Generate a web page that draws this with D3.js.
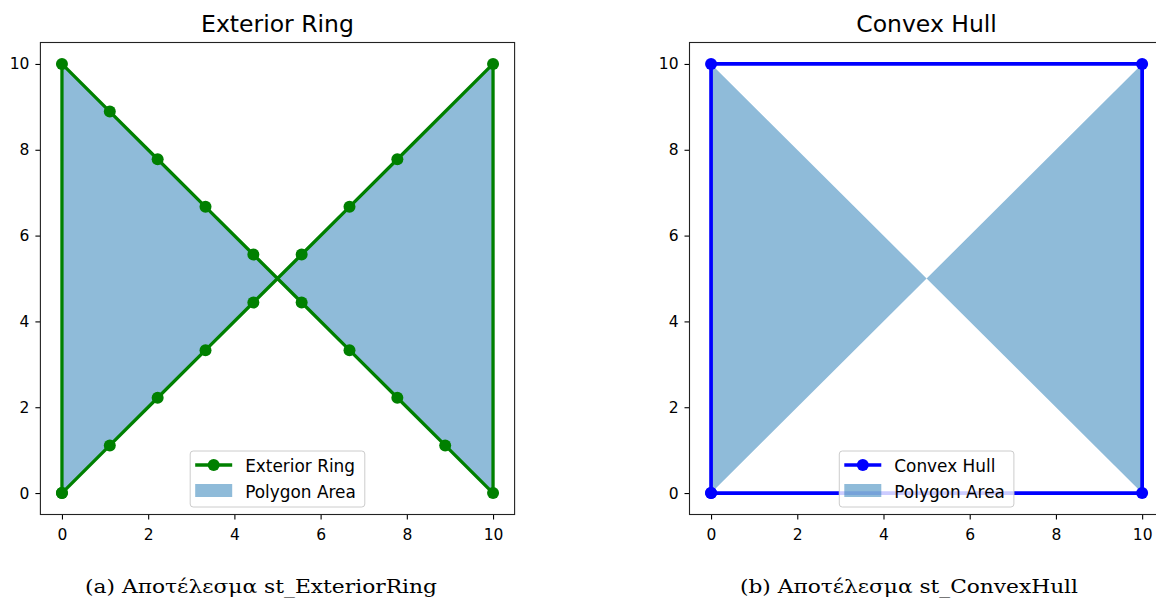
<!DOCTYPE html>
<html>
<head>
<meta charset="utf-8">
<script src="https://cdn.jsdelivr.net/npm/d3@7"></script>
<style>
  body { margin: 0; background: #fff; }
  svg { display: block; }
</style>
</head>
<body>
<svg id="chart" width="1156" height="600"></svg>
<script>
// exterior ring of the bowtie polygon
const ringX = [0, 1.11, 2.22, 3.33, 4.44, 5.56, 6.67, 7.78, 10, 10, 8.89, 7.78, 6.67, 5.56, 4.44, 3.33, 2.22, 1.11, 0, 0];
const ringY = [0, 1.11, 2.22, 3.33, 4.44, 5.56, 6.67, 7.78, 10, 0, 1.11, 2.22, 3.33, 4.44, 5.56, 6.67, 7.78, 8.89, 10, 0];

// polygon area (bowtie)
const polyX = [0, 10, 10, 0];
const polyY = [0, 10, 0, 10];

// convex hull
const hullX = [0, 10, 10, 0, 0];
const hullY = [0, 0, 10, 10, 0];

const ticks = [0, 2, 4, 6, 8, 10];

const svg = d3.select("#chart");
const sans = "'DejaVu Sans', sans-serif";

const panels = [
    { left: 40.4, title: "Exterior Ring", label: "Exterior Ring", color: "#008000", lw: 3.3,
      lx: ringX, ly: ringY, caption: "(a) Αποτέλεσμα st_ExteriorRing", capX: 261, capW: 352 },
    { left: 689.5, title: "Convex Hull", label: "Convex Hull", color: "#0000ff", lw: 3.7,
      lx: hullX, ly: hullY, caption: "(b) Αποτέλεσμα st_ConvexHull", capX: 909, capW: 338 }
];

const W = 474.2, H = 472, axTop = 42.5;

panels.forEach((p, idx) => {
    const g = svg.append("g").attr("transform", `translate(${p.left},${axTop})`);
    const x = d3.scaleLinear().domain([-0.5, 10.5]).range([0, W]);
    const y = d3.scaleLinear().domain([-0.5, 10.5]).range([H, 0]);

    const clipId = "clip" + idx;
    g.append("clipPath").attr("id", clipId)
        .append("rect").attr("width", W).attr("height", H);

    const plot = g.append("g").attr("clip-path", `url(#${clipId})`);

    const poly = polyX.map((v, i) => [x(v), y(polyY[i])]);
    plot.append("path")
        .attr("d", "M" + poly.join("L") + "Z")
        .attr("fill", "#1f77b4").attr("fill-opacity", 0.5);

    const pts = p.lx.map((v, i) => [v, p.ly[i]]);
    const line = d3.line().x(d => x(d[0])).y(d => y(d[1]));
    plot.append("path").datum(pts)
        .attr("d", line)
        .attr("fill", "none").attr("stroke", p.color)
        .attr("stroke-width", p.lw).attr("stroke-linejoin", "round");
    plot.selectAll("circle.m").data(pts).join("circle")
        .attr("cx", d => x(d[0])).attr("cy", d => y(d[1]))
        .attr("r", 6).attr("fill", p.color);

    // axes
    const xa = g.append("g").attr("transform", `translate(0,${H})`)
        .call(d3.axisBottom(x).tickValues(ticks).tickSize(5).tickPadding(9).tickFormat(d3.format("d")));
    const ya = g.append("g")
        .call(d3.axisLeft(y).tickValues(ticks).tickSize(5).tickPadding(6).tickFormat(d3.format("d")));
    [xa, ya].forEach(a => {
        a.select(".domain").remove();
        a.attr("font-family", sans).attr("font-size", 15.5);
        a.selectAll(".tick line").attr("stroke", "#000").attr("stroke-width", 1.1);
    });

    g.append("rect").attr("width", W).attr("height", H)
        .attr("fill", "none").attr("stroke", "#222").attr("stroke-width", 1.1);

    g.append("text")
        .attr("x", W / 2).attr("y", -10.5)
        .attr("font-family", sans).attr("font-size", 23.5)
        .attr("text-anchor", "middle").text(p.title);

    // legend
    const lg = g.append("g").attr("font-family", sans).attr("font-size", 16.9);
    const box = lg.append("rect");
    const t1 = lg.append("text").text(p.label);
    const t2 = lg.append("text").text("Polygon Area");
    const tw = Math.max(t1.node().getComputedTextLength(), t2.node().getComputedTextLength());
    const bw = 5 + 37 + 13 + tw + 9, bh = 56;
    const bx = W / 2 - bw / 2, by = H - 7.5 - bh;
    box.attr("x", bx).attr("y", by).attr("width", bw).attr("height", bh)
        .attr("rx", 3).attr("fill", "#fff").attr("fill-opacity", 0.8)
        .attr("stroke", "#cccccc").attr("stroke-width", 1);
    lg.append("line").attr("x1", bx + 5).attr("x2", bx + 42)
        .attr("y1", by + 14).attr("y2", by + 14)
        .attr("stroke", p.color).attr("stroke-width", p.lw);
    lg.append("circle").attr("cx", bx + 23.5).attr("cy", by + 14).attr("r", 6).attr("fill", p.color);
    lg.append("rect").attr("x", bx + 5).attr("y", by + 33).attr("width", 37).attr("height", 13)
        .attr("fill", "#1f77b4").attr("fill-opacity", 0.5);
    t1.attr("x", bx + 55).attr("y", by + 20.5);
    t2.attr("x", bx + 55).attr("y", by + 46.5);

    svg.append("text")
        .attr("x", p.capX).attr("y", 593).attr("text-anchor", "middle")
        .attr("font-family", "'DejaVu Serif', serif").attr("font-size", 19)
        .attr("textLength", p.capW).attr("lengthAdjust", "spacingAndGlyphs")
        .text(p.caption);
});
</script>
</body>
</html>
